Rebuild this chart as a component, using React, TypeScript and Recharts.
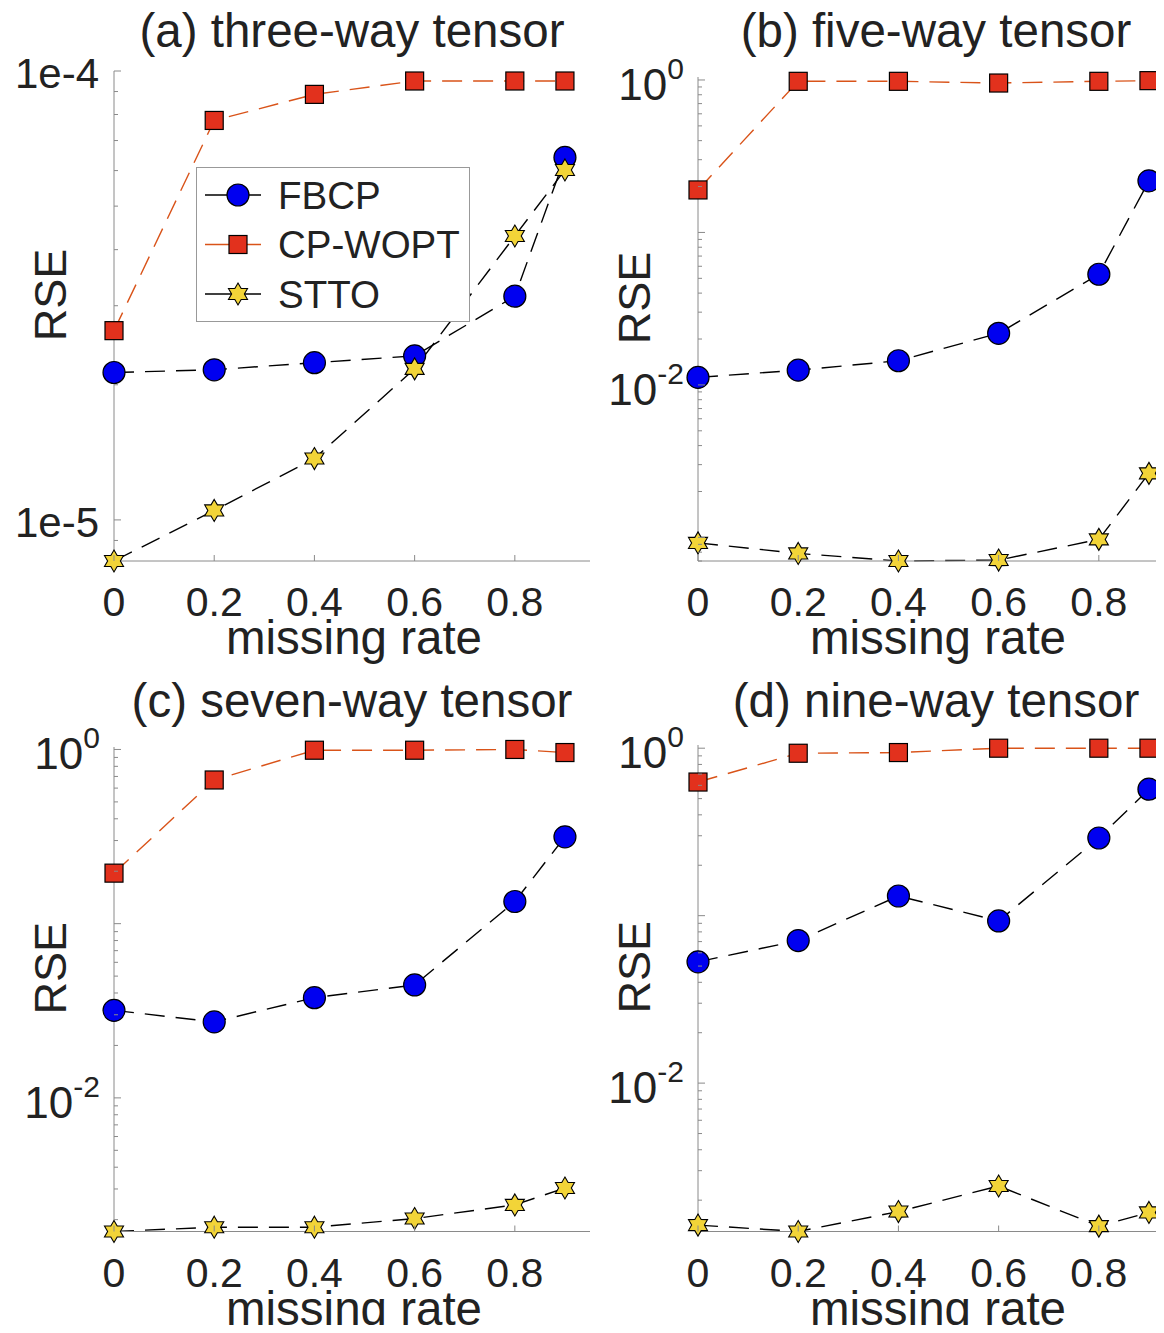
import React from 'react';
import { LineChart, Line, XAxis, YAxis, Legend, Label } from 'recharts';

const FONT = '"Liberation Sans", Arial, Helvetica, sans-serif';
const TEXT = '#222';
const AXIS = '#8a8a8a';
const ORANGE = '#D95319';
const RED = '#E2311D';
const BLUE = '#0000F0';
const YELLOW = '#F2D438';

const missingRate = [0, 0.2, 0.4, 0.6, 0.8, 0.9];
const rateTicks = [0, 0.2, 0.4, 0.6, 0.8];
const seriesNames = ['FBCP', 'CP-WOPT', 'STTO'];

// (a) three-way tensor
const fbcpA = [2.13e-5, 2.16e-5, 2.24e-5, 2.32e-5, 3.15e-5, 6.42e-5];
const cpwoptA = [2.64e-5, 7.76e-5, 8.87e-5, 9.5e-5, 9.5e-5, 9.5e-5];
const sttoA = [8.1e-6, 1.05e-5, 1.37e-5, 2.17e-5, 4.29e-5, 6.02e-5];

// (b) five-way tensor
const fbcpB = [0.0112, 0.0125, 0.0144, 0.0218, 0.0532, 0.218];
const cpwoptB = [0.19, 0.98, 0.98, 0.955, 0.98, 0.99];
const sttoB = [9.2e-4, 7.85e-4, 7.0e-4, 7.1e-4, 9.7e-4, 2.63e-3];

// (c) seven-way tensor
const fbcpC = [0.0318, 0.0273, 0.0376, 0.0445, 0.134, 0.315];
const cpwoptC = [0.195, 0.668, 0.99, 0.99, 1.0, 0.96];
const sttoC = [1.71e-3, 1.81e-3, 1.81e-3, 2.03e-3, 2.43e-3, 3.04e-3];

// (d) nine-way tensor
const fbcpD = [0.053, 0.071, 0.131, 0.093, 0.291, 0.569];
const cpwoptD = [0.628, 0.933, 0.942, 1.0, 1.0, 1.0];
const sttoD = [1.42e-3, 1.3e-3, 1.71e-3, 2.43e-3, 1.4e-3, 1.69e-3];

// minor + major log ticks between lo and hi
function logTicks(lo: number, hi: number) {
  const out: number[] = [];
  for (let e = Math.floor(Math.log10(lo)); e <= Math.ceil(Math.log10(hi)); e++) {
    for (let m = 1; m < 10; m++) {
      const v = m * Math.pow(10, e);
      if (v >= lo * 0.999 && v <= hi * 1.001) out.push(v);
    }
  }
  return out;
}

const panels = [
  {
    key: 'a', title: '(a) three-way tensor', left: 0, top: 0, height: 670, mTop: 71, mBottom: 9,
    domain: [8.1e-6, 1e-4], labelExps: [-5, -4], fmt: 'e',
    fbcp: fbcpA, cpwopt: cpwoptA, stto: sttoA, legend: true,
  },
  {
    key: 'b', title: '(b) five-way tensor', left: 584, top: 0, height: 670, mTop: 77, mBottom: 9,
    domain: [7.0e-4, 1.046], labelExps: [-2, 0], fmt: 'pow',
    fbcp: fbcpB, cpwopt: cpwoptB, stto: sttoB, legend: false,
  },
  {
    key: 'c', title: '(c) seven-way tensor', left: 0, top: 670, height: 663, mTop: 77, mBottom: 1.5,
    domain: [1.71e-3, 1.033], labelExps: [-2, 0], fmt: 'pow',
    fbcp: fbcpC, cpwopt: cpwoptC, stto: sttoC, legend: false,
  },
  {
    key: 'd', title: '(d) nine-way tensor', left: 584, top: 670, height: 663, mTop: 75, mBottom: 1.5,
    domain: [1.3e-3, 1.045], labelExps: [-2, 0], fmt: 'pow',
    fbcp: fbcpD, cpwopt: cpwoptD, stto: sttoD, legend: false,
  },
];

function starPoints(cx: number, cy: number, R: number) {
  const r = R * 0.58;
  const pts: string[] = [];
  for (let i = 0; i < 12; i++) {
    const a = -Math.PI / 2 + (i * Math.PI) / 6;
    const rad = i % 2 === 0 ? R : r;
    pts.push(`${(cx + rad * Math.cos(a)).toFixed(2)},${(cy + rad * Math.sin(a)).toFixed(2)}`);
  }
  return pts.join(' ');
}

const circleDot = (props: any) => (
  <circle key={`c${props.index}`} cx={props.cx} cy={props.cy} r={11} fill={BLUE} stroke="#000" strokeWidth={1.2} />
);
const squareDot = (props: any) => (
  <rect key={`s${props.index}`} x={props.cx - 9} y={props.cy - 9} width={18} height={18} fill={RED} stroke="#000" strokeWidth={1.2} />
);
const starDot = (props: any) => (
  <polygon key={`h${props.index}`} points={starPoints(props.cx, props.cy, 11)} fill={YELLOW} stroke="#000" strokeWidth={1.1} />
);

const makeYTick = (fmt: string, labelExps: number[]) => (props: any) => {
  const { x, y, payload } = props;
  const lg = Math.log10(payload.value);
  const e = Math.round(lg);
  const decade = Math.abs(lg - e) < 1e-6;
  const labelled = decade && labelExps.includes(e);
  return (
    <g>
      <line x1={x} x2={x + (decade ? 7 : 4)} y1={y} y2={y} stroke={AXIS} strokeWidth={1} />
      {labelled && fmt === 'e' && (
        <text x={x - 15} y={y + 17} textAnchor="end" fontSize={42} fill={TEXT} fontFamily={FONT}>
          {`1e${e}`}
        </text>
      )}
      {labelled && fmt === 'pow' && (
        <text x={x - 14} y={y + 20} textAnchor="end" fill={TEXT} fontFamily={FONT}>
          <tspan fontSize={44}>10</tspan>
          <tspan fontSize={30} dy={-21}>{e}</tspan>
        </text>
      )}
    </g>
  );
};

const XTick = (props: any) => {
  const { x, y, payload } = props;
  return (
    <g>
      <line x1={x} x2={x} y1={y} y2={y - 6} stroke={AXIS} strokeWidth={1} />
      <text x={x} y={y + 55} textAnchor="middle" fontSize={41} fill={TEXT} fontFamily={FONT}>
        {payload.value}
      </text>
    </g>
  );
};

const xLabel = (props: any) => {
  const vb = props.viewBox;
  return (
    <text x={vb.x + vb.width / 2 + 2} y={vb.y + 93} textAnchor="middle" fontSize={47.5} fill={TEXT} fontFamily={FONT}>
      missing rate
    </text>
  );
};

const yLabel = (props: any) => {
  const vb = props.viewBox;
  const cx = vb.x + 50;
  const cy = vb.y + vb.height / 2 - 21;
  return (
    <text transform={`translate(${cx + 16},${cy}) rotate(-90)`} textAnchor="middle" fontSize={45} fill={TEXT} fontFamily={FONT}>
      RSE
    </text>
  );
};

const legendRows = [
  { name: seriesNames[0], line: '#000', marker: 'circle' },
  { name: seriesNames[1], line: ORANGE, marker: 'square' },
  { name: seriesNames[2], line: '#000', marker: 'star' },
];

const LegendBox = () => (
  <svg width={274} height={155} style={{ display: 'block' }}>
    <rect x={0.5} y={0.5} width={273} height={154} fill="#fff" stroke="#999" strokeWidth={1} />
    {legendRows.map((r, i) => {
      const cy = 28 + i * 49.5;
      return (
        <g key={r.name}>
          <line x1={9} x2={65} y1={cy} y2={cy} stroke={r.line} strokeWidth={1.5} />
          {r.marker === 'circle' && circleDot({ cx: 42, cy, index: i })}
          {r.marker === 'square' && squareDot({ cx: 42, cy, index: i })}
          {r.marker === 'star' && starDot({ cx: 42, cy, index: i })}
          <text x={82} y={cy + 13.5} fontSize={38.5} fill={TEXT} fontFamily={FONT}>
            {r.name}
          </text>
        </g>
      );
    })}
  </svg>
);

function Panel({ p }: { p: (typeof panels)[number] }) {
  const rows = missingRate.map((x, i) => ({
    x,
    fbcp: p.fbcp[i],
    cpwopt: p.cpwopt[i],
    stto: p.stto[i],
  }));
  return (
    <div style={{ position: 'absolute', left: p.left, top: p.top, width: 600, height: p.height }}>
      <div
        style={{
          position: 'absolute', left: 114, width: 476, top: 7, textAlign: 'center',
          fontSize: 47.5, lineHeight: '47px', color: TEXT, whiteSpace: 'nowrap', zIndex: 2,
        }}
      >
        {p.title}
      </div>
      <LineChart width={600} height={p.height} data={rows} margin={{ top: p.mTop, right: 10, bottom: p.mBottom, left: 0 }}>
        <XAxis
          dataKey="x" type="number" domain={[0, 0.95]} ticks={rateTicks} interval={0} height={100}
          tickSize={0} tickMargin={0} tickLine={false} axisLine={{ stroke: AXIS }} tick={XTick}
        >
          <Label content={xLabel} />
        </XAxis>
        <YAxis
          type="number" scale="log" domain={p.domain as [number, number]} ticks={logTicks(p.domain[0], p.domain[1])}
          interval={0} width={114} tickSize={0} tickMargin={0} tickLine={false} axisLine={{ stroke: AXIS }}
          tick={makeYTick(p.fmt, p.labelExps)}
        >
          <Label content={yLabel} />
        </YAxis>
        <Line dataKey="fbcp" name="FBCP" stroke="#000" strokeWidth={1.4} strokeDasharray="20 11" dot={circleDot} activeDot={false} isAnimationActive={false} />
        <Line dataKey="cpwopt" name="CP-WOPT" stroke={ORANGE} strokeWidth={1.4} strokeDasharray="20 11" dot={squareDot} activeDot={false} isAnimationActive={false} />
        <Line dataKey="stto" name="STTO" stroke="#000" strokeWidth={1.4} strokeDasharray="20 11" dot={starDot} activeDot={false} isAnimationActive={false} />
        {p.legend && (
          <Legend
            layout="vertical" align="center" verticalAlign="middle"
            wrapperStyle={{ left: 196, top: 167, width: 274, height: 155 }}
            content={LegendBox}
          />
        )}
      </LineChart>
    </div>
  );
}

export default function App() {
  return (
    <div
      style={{
        position: 'relative', width: 1164, height: 1333, margin: -8, overflow: 'hidden',
        background: '#fff', fontFamily: FONT,
      }}
    >
      {panels.map((p) => (
        <Panel key={p.key} p={p} />
      ))}
    </div>
  );
}
